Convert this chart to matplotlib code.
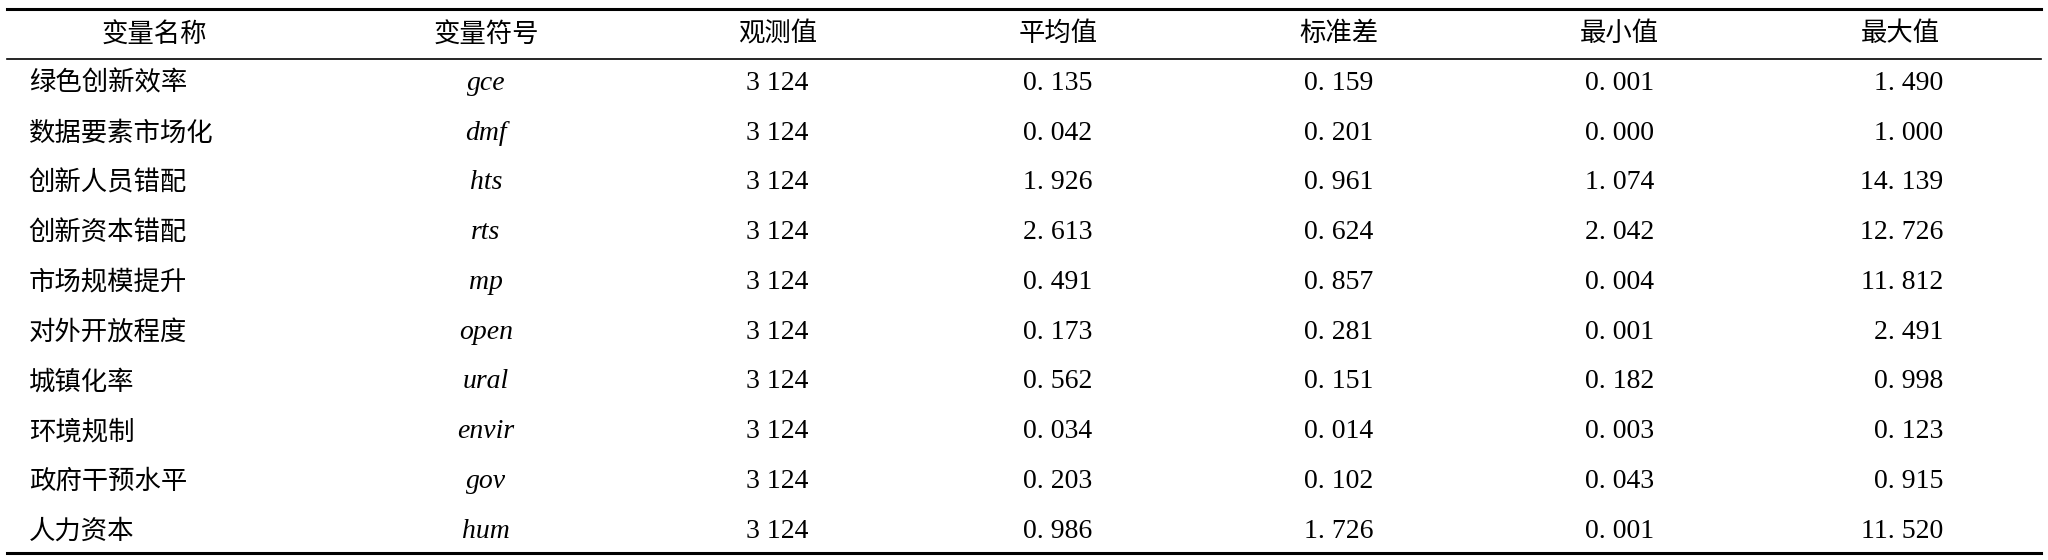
import matplotlib.pyplot as plt

headers = ["变量名称", "变量符号", "观测值", "平均值", "标准差", "最小值", "最大值"]
names = ["绿色创新效率", "数据要素市场化", "创新人员错配", "创新资本错配", "市场规模提升",
         "对外开放程度", "城镇化率", "环境规制", "政府干预水平", "人力资本"]
symbols = ["gce", "dmf", "hts", "rts", "mp", "open", "ural", "envir", "gov", "hum"]
obs = ["3 124"] * 10
mean = ["0.135", "0.042", "1.926", "2.613", "0.491", "0.173", "0.562", "0.034", "0.203", "0.986"]
std = ["0.159", "0.201", "0.961", "0.624", "0.857", "0.281", "0.151", "0.014", "0.102", "1.726"]
vmin = ["0.001", "0.000", "1.074", "2.042", "0.004", "0.001", "0.182", "0.003", "0.043", "0.001"]
vmax = ["1.490", "1.000", "14.139", "12.726", "11.812", "2.491", "0.998", "0.123", "0.915", "11.520"]

W, H = 1568, 430
fig = plt.figure(figsize=(20.48, 5.6), dpi=100)
ax = fig.add_axes([0, 0, 1, 1])
ax.set_xlim(0, W)
ax.set_ylim(H, 0)
ax.axis("off")

cjk = ["Noto Sans CJK SC", "DejaVu Sans"]
serif = "Liberation Serif"
fs = 19

col_x = [118, 372, 595, 810, 1025, 1240, 1455]
for x, h in zip(col_x, headers):
    ax.text(x, 26, h, ha="center", va="center", fontsize=fs, family=cjk)

row_y = [64 + 38.2 * i for i in range(len(names))]
for i, y in enumerate(row_y):
    ax.text(22, y, names[i], ha="left", va="center", fontsize=fs, family=cjk)
    ax.text(col_x[1], y, symbols[i], ha="center", va="center", fontsize=fs + 1,
            family=serif, style="italic")
    for x, col in zip(col_x[2:6], [obs, mean, std, vmin]):
        ax.text(x, y, col[i].replace(".", ". "), ha="center", va="center",
                fontsize=fs + 1, family=serif)
    ax.text(1488, y, vmax[i].replace(".", ". "), ha="right", va="center",
            fontsize=fs + 1, family=serif)

ax.plot([5, 1563], [7, 7], color="black", lw=2.2)
ax.plot([5, 1563], [45, 45], color="black", lw=1.2)
ax.plot([5, 1563], [425, 425], color="black", lw=2.2)

fig.savefig("out.png", dpi=100)
